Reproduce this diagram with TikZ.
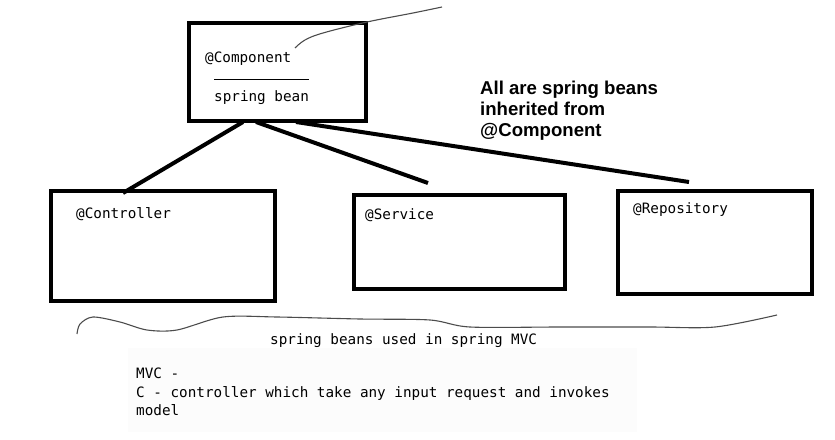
\documentclass[tikz,border=0pt]{standalone}
\usepackage{fontspec}
\newfontfamily\monofnt{DejaVu Sans Mono}
\newfontfamily\arialfnt{Liberation Sans}
\begin{document}
\begin{tikzpicture}[x=1pt,y=-1pt,
  boxnode/.style={draw=black, line width=4pt, rectangle, inner sep=0pt, fill=none},
  conn/.style={draw=black, line width=4pt},
  squig/.style={draw=black!70, line width=1.1pt},
  monotxt/.style={font=\monofnt\fontsize{14.3}{18.5}\selectfont, anchor=base west, inner sep=0pt, text=black},
  boldtxt/.style={font=\arialfnt\bfseries\fontsize{18.6}{21}\selectfont, anchor=base west, inner sep=0pt, align=left, text=black}]
\useasboundingbox (0,0) rectangle (835,439);
\fill[black!1] (128,348) rectangle (637,432);
% boxes
\node[boxnode, minimum width=177.5pt, minimum height=98.5pt] (comp) at (277.25,71.75) {};
\node[boxnode, minimum width=224pt, minimum height=110pt] (ctrl) at (163,246) {};
\node[boxnode, minimum width=211pt, minimum height=94pt] (serv) at (459.5,242) {};
\node[boxnode, minimum width=194pt, minimum height=103pt] (repo) at (715,242.5) {};
% texts
\node[monotxt] (tcomp) at (205,62) {@Component};
\coordinate (ruleL) at (214,79);
\coordinate (ruleR) at (309,79);
\draw[line width=1pt] (ruleL) -- (ruleR);
\node[monotxt] (tbean) at (214,101) {spring bean};
\node[monotxt] (tctrl) at (76,218) {@Controller};
\node[monotxt] (tserv) at (365,219) {@Service};
\node[monotxt] (trepo) at (633,213) {@Repository};
\node[boldtxt] (tall1) at (480,94) {All are spring beans};
\node[boldtxt] (tall2) at (480,115) {inherited from};
\node[boldtxt] (tall3) at (480,136) {@Component};
\node[monotxt] (tused) at (270,344) {spring beans used in spring MVC};
\node[monotxt] (tmvc1) at (136,378) {MVC -};
\node[monotxt] (tmvc2) at (136,397) {C - controller which take any input request and invokes};
\node[monotxt] (tmvc3) at (136,415) {model};
% connectors
\coordinate (c1a) at (243,122);
\coordinate (c1b) at (123,193);
\coordinate (c2a) at (256,122);
\coordinate (c2b) at (428,183);
\coordinate (c3a) at (296,122);
\coordinate (c3b) at (689,182);
\draw[conn] (c1a) -- (c1b);
\draw[conn] (c2a) -- (c2b);
\draw[conn] (c3a) -- (c3b);
% hand-drawn squiggles
\draw[squig] plot[smooth, tension=0.6] coordinates {(295,48) (305,40) (323,33) (367,22) (413,13) (442,7)};
\draw[squig] plot[smooth, tension=0.5] coordinates {(77,334) (80,324) (93,317) (120,322) (147,330) (177,330) (223,317) (277,317) (360,319) (430,320) (470,327) (560,327) (650,327) (715,327) (777,315)};
\end{tikzpicture}
\end{document}
